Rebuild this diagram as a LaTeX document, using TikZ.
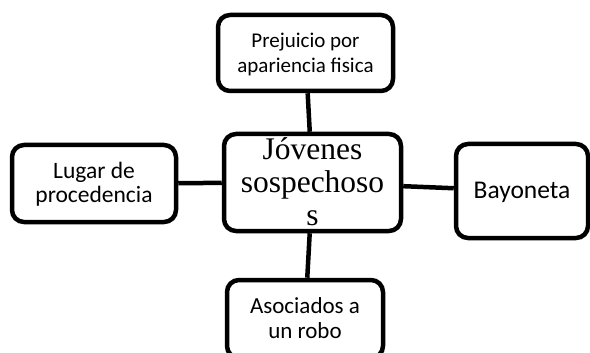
\documentclass[tikz,border=0pt]{standalone}
\usepackage{fontspec}
\newfontfamily\calfont{Carlito}
\newfontfamily\timesfont{Liberation Serif}
\tikzset{caja/.style={draw, line width=4.5pt, rounded corners=12pt, inner sep=0pt, align=center, text depth=4pt, font=\calfont}}

\begin{document}
\begin{tikzpicture}[x=1pt,y=-1pt]
\useasboundingbox (0,0) rectangle (590,353);
\clip (0,0) rectangle (590,353);
\node[caja, minimum width=177pt, minimum height=97pt, text height=86pt, text depth=0pt, font=\timesfont\fontsize{31.5}{33}\selectfont] (jovenes) at (312.5,182.5) {Jóvenes\\sospechoso\\s};
\node[caja, minimum width=175pt, minimum height=76pt, text height=43pt, font=\calfont\fontsize{21}{25}\selectfont] (prejuicio) at (305.5,53) {Prejuicio por\\apariencia fisica};
\node[caja, minimum width=164pt, minimum height=77pt, text height=42pt, font=\calfont\fontsize{23.5}{24}\selectfont] (lugar) at (94,183.5) {Lugar de\\procedencia};
\node[caja, minimum width=132pt, minimum height=94pt, text height=18pt, font=\calfont\fontsize{25.5}{30}\selectfont] (bayoneta) at (522,191) {Bayoneta};
\node[caja, minimum width=156pt, minimum height=78pt, text height=43pt, font=\calfont\fontsize{23}{25}\selectfont] (asociados) at (305,319) {Asociados a\\un robo};
\draw[line width=4.5pt] (jovenes) -- (prejuicio);
\draw[line width=4.5pt] (jovenes) -- (lugar);
\draw[line width=4.5pt] (jovenes) -- (bayoneta);
\draw[line width=4.5pt] (jovenes) -- (asociados);
\end{tikzpicture}
\end{document}
